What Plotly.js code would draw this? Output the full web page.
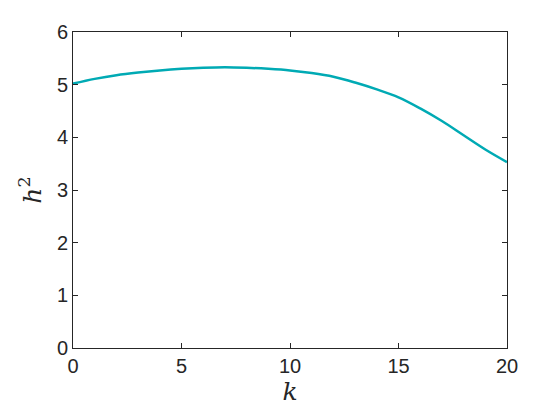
<!DOCTYPE html>
<html>
<head>
<meta charset="utf-8">
<script src="https://cdn.plot.ly/plotly-3.0.1.min.js"></script>
<style>
  html, body { margin: 0; padding: 0; background: #fff; }
  #chart { width: 560px; height: 420px; }
</style>
</head>
<body>
<div id="chart"></div>
<script>
// values
var k = [0, 1, 2, 3, 4, 5, 6, 7, 8, 9, 10, 11, 12, 13, 14, 15, 16, 17, 18, 19, 20];
var h2 = [5.02, 5.11, 5.18, 5.23, 5.27, 5.30, 5.32, 5.33, 5.32, 5.30, 5.27,
          5.22, 5.15, 5.04, 4.91, 4.76, 4.55, 4.31, 4.04, 3.77, 3.53];
var xTicks = [0, 5, 10, 15, 20];
var yTicks = [0, 1, 2, 3, 4, 5, 6];

var trace = {
  x: k,
  y: h2,
  type: 'scatter',
  mode: 'lines',
  line: { color: 'rgb(0, 170, 180)', width: 2.5, shape: 'spline' },
  hoverinfo: 'skip'
};

var axisCommon = {
  showline: true,
  mirror: 'ticks',
  linecolor: '#262626',
  linewidth: 1,
  ticks: 'inside',
  ticklen: 5,
  tickcolor: '#262626',
  showgrid: false,
  zeroline: false,
  tickfont: { family: 'Liberation Sans, Arial, sans-serif', size: 20, color: '#262626' }
};

var layout = {
  width: 560,
  height: 420,
  margin: { l: 73, r: 53, t: 32, b: 72 },
  paper_bgcolor: '#fff',
  plot_bgcolor: '#fff',
  showlegend: false,
  xaxis: Object.assign({}, axisCommon, {
    range: [0, 20],
    tickvals: xTicks,
    title: { text: '<i>k</i>', font: { family: 'DejaVu Serif, serif', size: 25, color: '#262626' }, standoff: 6 }
  }),
  yaxis: Object.assign({}, axisCommon, {
    range: [0, 6],
    tickvals: yTicks,
    title: { text: '<i>h</i><sup>2</sup>', font: { family: 'DejaVu Serif, serif', size: 25, color: '#262626' }, standoff: 8 }
  })
};

Plotly.newPlot('chart', [trace], layout, { displayModeBar: false, staticPlot: true });
</script>
</body>
</html>
